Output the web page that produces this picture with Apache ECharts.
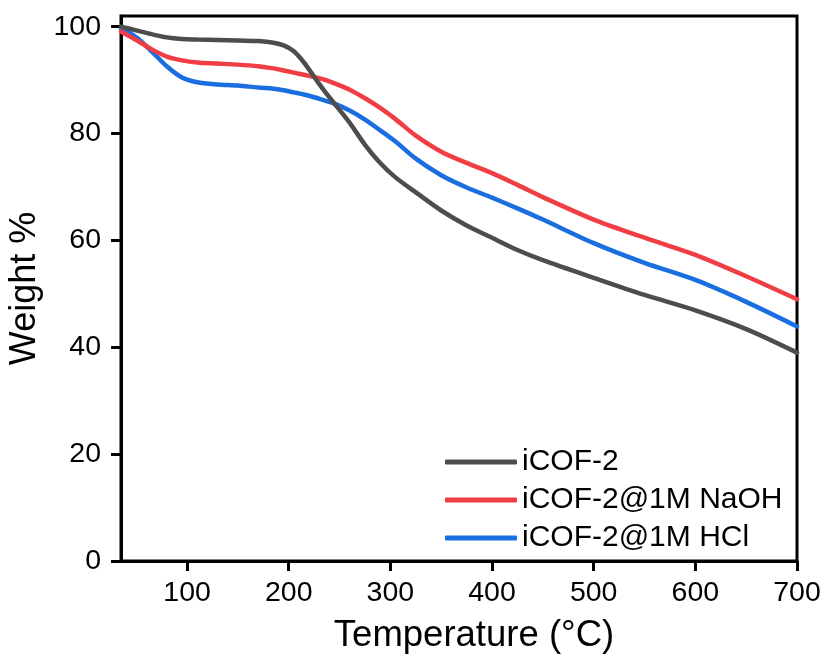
<!DOCTYPE html>
<html>
<head>
<meta charset="utf-8">
<script src="https://cdn.jsdelivr.net/npm/echarts@6/dist/echarts.min.js"></script>
<style>html,body{margin:0;padding:0;background:#fff}#c{width:828px;height:659px}</style>
</head>
<body>
<div id="c"></div>
<script>
var temps = [35, 50, 65, 80, 95, 110, 130, 150, 170, 185, 195, 205, 215, 225, 235, 245, 260, 275, 290, 305, 325, 350, 375, 400, 425, 450, 500, 550, 600, 650, 700];
var weightCOF = [100, 99.3, 98.6, 98.0, 97.7, 97.6, 97.5, 97.4, 97.3, 97.0, 96.5, 95.4, 93.3, 90.6, 88.0, 85.6, 82.0, 77.9, 74.5, 71.8, 69.0, 65.6, 62.8, 60.5, 58.2, 56.3, 53.0, 49.8, 46.9, 43.4, 39.0];
var weightNaOH = [99.1, 97.5, 95.8, 94.4, 93.7, 93.3, 93.1, 92.9, 92.6, 92.2, 91.8, 91.4, 91.0, 90.6, 90.1, 89.4, 88.2, 86.6, 84.8, 82.7, 79.6, 76.6, 74.5, 72.6, 70.4, 68.1, 63.9, 60.5, 57.3, 53.3, 49.0];
var weightHCl = [99.8, 98.0, 95.4, 92.6, 90.5, 89.6, 89.2, 89.0, 88.6, 88.4, 88.1, 87.7, 87.3, 86.8, 86.2, 85.6, 84.3, 82.6, 80.6, 78.5, 75.3, 72.2, 69.9, 68.0, 66.0, 63.9, 59.5, 55.8, 52.6, 48.5, 43.9];
var seriesNames = ['iCOF-2', 'iCOF-2@1M NaOH', 'iCOF-2@1M HCl'];
var xTicks = [100, 200, 300, 400, 500, 600, 700];
var yTicks = [0, 20, 40, 60, 80, 100];

function pairs(ys) { return temps.map(function (t, i) { return [t, ys[i]]; }); }
var colors = ['#4d4d4d', '#f03e44', '#1a6ee0'];
var font = 'Liberation Sans, Arial, sans-serif';
var chart = echarts.init(document.getElementById('c'));
chart.setOption({
  animation: false,
  backgroundColor: '#fff',
  grid: { left: 121, right: 31, top: 16, bottom: 98, show: true, borderColor: '#000', borderWidth: 3, backgroundColor: 'transparent', containLabel: false, outerBoundsMode: 'none' },
  legend: {
    orient: 'vertical', left: 440, top: 442, itemWidth: 72, itemHeight: 5, itemGap: 8,
    icon: 'roundRect',
    textStyle: { fontFamily: font, fontSize: 30, color: '#000', padding: [0, 0, 0, 0] },
    data: seriesNames
  },
  xAxis: {
    type: 'value', min: 35, max: 700,
    name: 'Temperature (°C)', nameLocation: 'middle', nameGap: 56, nameMoveOverlap: false,
    nameTextStyle: { fontFamily: font, fontSize: 36.5, color: '#000', padding: [0, 0, 0, 30] },
    axisLine: { show: true, lineStyle: { color: '#000', width: 3 } },
    axisTick: { show: true, length: 10, lineStyle: { color: '#000', width: 3 }, customValues: xTicks },
    axisLabel: { fontFamily: font, fontSize: 28.5, color: '#000', margin: 18, customValues: xTicks },
    splitLine: { show: false }
  },
  yAxis: {
    type: 'value', min: 0, max: 102,
    name: 'Weight %', nameLocation: 'middle', nameGap: 78, nameMoveOverlap: false,
    nameTextStyle: { fontFamily: font, fontSize: 36, color: '#000' },
    axisLine: { show: true, lineStyle: { color: '#000', width: 3 } },
    axisTick: { show: true, length: 10, lineStyle: { color: '#000', width: 3 }, customValues: yTicks },
    axisLabel: { fontFamily: font, fontSize: 28.5, color: '#000', margin: 20, customValues: yTicks },
    splitLine: { show: false }
  },
  series: [weightCOF, weightNaOH, weightHCl].map(function (ys, i) {
    return {
      name: seriesNames[i], type: 'line', data: pairs(ys), smooth: 0.3,
      showSymbol: false, symbol: 'none', color: colors[i],
      lineStyle: { width: 4.5, color: colors[i], cap: 'round' },
      z: 3 - i
    };
  })
});
</script>
</body>
</html>
